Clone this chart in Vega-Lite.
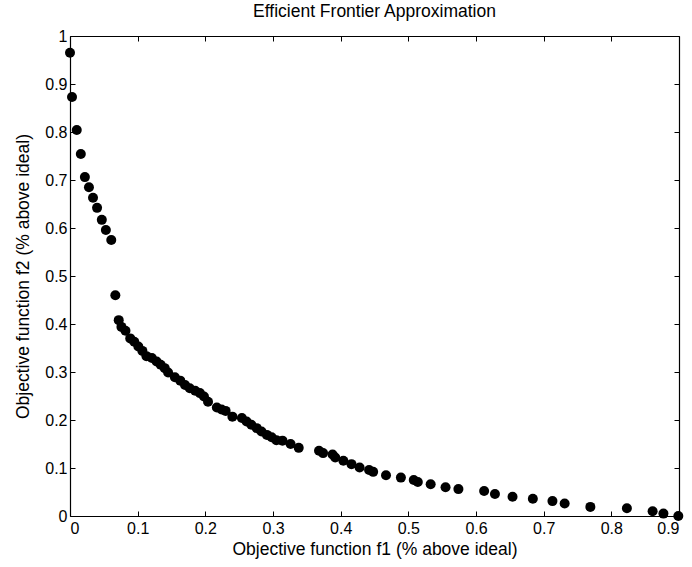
{
  "$schema": "https://vega.github.io/schema/vega-lite/v6.json",
  "autosize": "none",
  "padding": {"left": 70, "top": 36, "right": 13, "bottom": 51},
  "width": 609,
  "height": 480,
  "title": {"text": "Efficient Frontier Approximation", "font": "Liberation Sans", "fontSize": 17.5, "fontWeight": "normal", "color": "black", "offset": 8},
  "config": {
    "view": {"stroke": null},
    "axis": {"domainColor": "black", "tickColor": "black", "labelColor": "black", "titleColor": "black", "grid": false, "labelFont": "Liberation Sans", "titleFont": "Liberation Sans", "labelFontSize": 16, "titleFontSize": 17.5, "titleFontWeight": "normal", "tickSize": -5, "domainWidth": 1.2}
  },
  "data": {"values": [
    {"f1": 0.0, "f2": 0.965},
    {"f1": 0.003, "f2": 0.873},
    {"f1": 0.01, "f2": 0.804},
    {"f1": 0.016, "f2": 0.754},
    {"f1": 0.022, "f2": 0.706},
    {"f1": 0.028, "f2": 0.685},
    {"f1": 0.034, "f2": 0.663},
    {"f1": 0.040, "f2": 0.642},
    {"f1": 0.047, "f2": 0.617},
    {"f1": 0.053, "f2": 0.596},
    {"f1": 0.061, "f2": 0.575},
    {"f1": 0.067, "f2": 0.460},
    {"f1": 0.072, "f2": 0.408},
    {"f1": 0.076, "f2": 0.394},
    {"f1": 0.082, "f2": 0.386},
    {"f1": 0.089, "f2": 0.370},
    {"f1": 0.095, "f2": 0.363},
    {"f1": 0.101, "f2": 0.353},
    {"f1": 0.107, "f2": 0.344},
    {"f1": 0.113, "f2": 0.333},
    {"f1": 0.121, "f2": 0.329},
    {"f1": 0.128, "f2": 0.322},
    {"f1": 0.134, "f2": 0.315},
    {"f1": 0.140, "f2": 0.308},
    {"f1": 0.145, "f2": 0.299},
    {"f1": 0.155, "f2": 0.289},
    {"f1": 0.163, "f2": 0.282},
    {"f1": 0.170, "f2": 0.273},
    {"f1": 0.177, "f2": 0.266},
    {"f1": 0.185, "f2": 0.261},
    {"f1": 0.192, "f2": 0.256},
    {"f1": 0.198, "f2": 0.249},
    {"f1": 0.204, "f2": 0.238},
    {"f1": 0.217, "f2": 0.226},
    {"f1": 0.224, "f2": 0.222},
    {"f1": 0.230, "f2": 0.219},
    {"f1": 0.240, "f2": 0.207},
    {"f1": 0.254, "f2": 0.204},
    {"f1": 0.261, "f2": 0.197},
    {"f1": 0.268, "f2": 0.190},
    {"f1": 0.276, "f2": 0.183},
    {"f1": 0.283, "f2": 0.176},
    {"f1": 0.291, "f2": 0.169},
    {"f1": 0.298, "f2": 0.164},
    {"f1": 0.305, "f2": 0.158},
    {"f1": 0.314, "f2": 0.157},
    {"f1": 0.326, "f2": 0.150},
    {"f1": 0.338, "f2": 0.142},
    {"f1": 0.368, "f2": 0.136},
    {"f1": 0.374, "f2": 0.131},
    {"f1": 0.388, "f2": 0.128},
    {"f1": 0.392, "f2": 0.122},
    {"f1": 0.404, "f2": 0.115},
    {"f1": 0.416, "f2": 0.108},
    {"f1": 0.428, "f2": 0.101},
    {"f1": 0.442, "f2": 0.096},
    {"f1": 0.448, "f2": 0.092},
    {"f1": 0.467, "f2": 0.085},
    {"f1": 0.489, "f2": 0.080},
    {"f1": 0.508, "f2": 0.075},
    {"f1": 0.514, "f2": 0.071},
    {"f1": 0.533, "f2": 0.066},
    {"f1": 0.555, "f2": 0.060},
    {"f1": 0.574, "f2": 0.056},
    {"f1": 0.612, "f2": 0.052},
    {"f1": 0.628, "f2": 0.046},
    {"f1": 0.654, "f2": 0.040},
    {"f1": 0.684, "f2": 0.036},
    {"f1": 0.713, "f2": 0.031},
    {"f1": 0.731, "f2": 0.026},
    {"f1": 0.769, "f2": 0.019},
    {"f1": 0.823, "f2": 0.016},
    {"f1": 0.861, "f2": 0.010},
    {"f1": 0.877, "f2": 0.005},
    {"f1": 0.899, "f2": 0.0}
  ]},
  "layer": [
    {
      "mark": {"type": "point", "filled": true, "color": "black", "opacity": 1, "size": 100, "shape": "circle", "clip": false},
      "encoding": {
        "x": {"field": "f1", "type": "quantitative", "scale": {"domain": [0, 0.9], "nice": false, "zero": false}, "axis": {"title": "Objective function f1 (% above ideal)", "values": [0, 0.1, 0.2, 0.3, 0.4, 0.5, 0.6, 0.7, 0.8, 0.9], "format": "~g", "labelPadding": 9, "titlePadding": 4}},
        "y": {"field": "f2", "type": "quantitative", "scale": {"domain": [0, 1], "nice": false, "zero": false}, "axis": {"title": "Objective function f2 (% above ideal)", "values": [0, 0.1, 0.2, 0.3, 0.4, 0.5, 0.6, 0.7, 0.8, 0.9, 1], "format": "~g", "labelPadding": 8, "titlePadding": 12}}
      }
    },
    {
      "mark": {"type": "point", "opacity": 0},
      "encoding": {
        "x": {"field": "f1", "type": "quantitative", "axis": {"orient": "top", "title": null, "labels": false, "values": [0, 0.1, 0.2, 0.3, 0.4, 0.5, 0.6, 0.7, 0.8, 0.9]}},
        "y": {"field": "f2", "type": "quantitative", "axis": {"orient": "right", "title": null, "labels": false, "values": [0, 0.1, 0.2, 0.3, 0.4, 0.5, 0.6, 0.7, 0.8, 0.9, 1]}}
      }
    }
  ],
  "resolve": {"axis": {"x": "independent", "y": "independent"}}
}
